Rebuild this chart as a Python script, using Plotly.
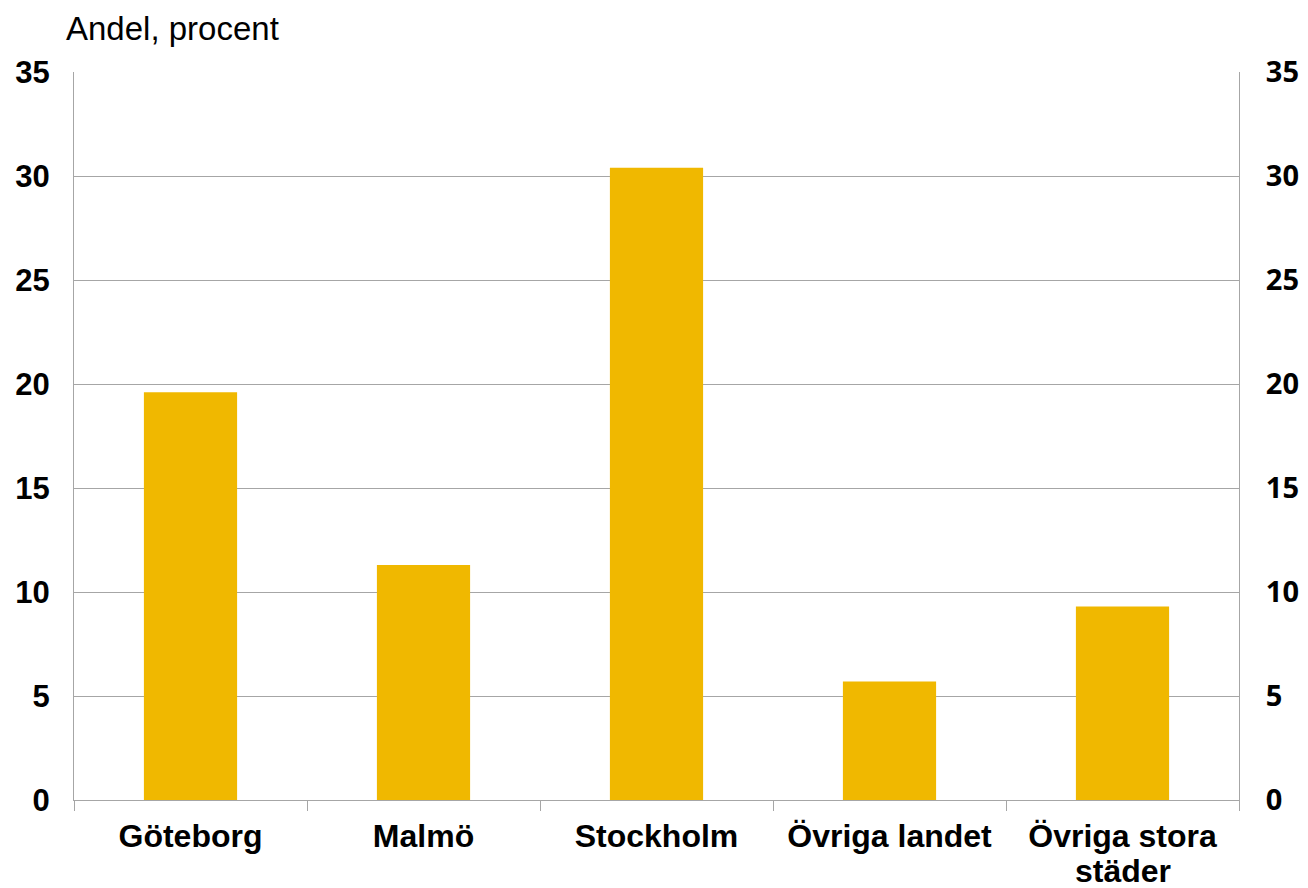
import plotly.graph_objects as go

categories = ["Göteborg", "Malmö", "Stockholm", "Övriga landet", "Övriga stora städer"]
tick_text = ["Göteborg", "Malmö", "Stockholm", "Övriga landet", "Övriga stora"]
second_line = ["", "", "", "", "städer"]
values = [19.6, 11.3, 30.4, 5.7, 9.3]
tick_vals = [0, 5, 10, 15, 20, 25, 30, 35]

BAR = "#F0B800"
GRID = "#A6A6A6"

fig = go.Figure()
fig.add_trace(go.Bar(x=categories, y=values, marker=dict(color=BAR, line=dict(width=0)),
                     width=0.4, showlegend=False, hoverinfo="skip"))
fig.add_trace(go.Scatter(x=categories, y=values, yaxis="y2", mode="markers",
                         marker=dict(opacity=0), showlegend=False, hoverinfo="skip"))

annotations = [dict(
    text="Andel, procent", xref="paper", yref="paper", x=-0.0086, y=1.060,
    xanchor="left", yanchor="middle", showarrow=False,
    font=dict(family="Liberation Sans, Arial", size=33, color="black"),
)]
for cat, extra in zip(categories, second_line):
    if extra:
        annotations.append(dict(
            text=extra, xref="x", yref="paper", x=cat, y=-0.0975,
            xanchor="center", yanchor="middle", showarrow=False,
            font=dict(family="Liberation Sans, Arial", size=32, color="black", weight="bold"),
        ))

fig.update_layout(
    width=1300, height=880,
    margin=dict(l=66, r=69, t=64, b=88),
    paper_bgcolor="white", plot_bgcolor="white",
    bargap=0.6,
    xaxis=dict(
        automargin=False,
        tickvals=categories, ticktext=tick_text,
        showline=True, linecolor=GRID, linewidth=1,
        ticks="outside", tickson="boundaries", ticklen=10, tickcolor=GRID,
        ticklabelstandoff=8,
        tickfont=dict(family="Liberation Sans, Arial", size=32, color="black", weight="bold"),
        showgrid=False,
    ),
    yaxis=dict(
        automargin=False,
        range=[0, 35], tickvals=tick_vals, showgrid=True, gridcolor=GRID, gridwidth=1,
        showline=True, linecolor=GRID, linewidth=1, zeroline=False,
        ticks="", ticklabelstandoff=17,
        tickfont=dict(family="Liberation Sans, Arial", size=31, color="black", weight="bold"),
    ),
    yaxis2=dict(
        automargin=False,
        range=[0, 35], tickvals=tick_vals, overlaying="y", side="right",
        showgrid=False, showline=True, linecolor=GRID, linewidth=1, zeroline=False,
        ticks="", ticklabelstandoff=20,
        tickfont=dict(family="Open Sans", size=29, color="black", weight="bold"),
    ),
    annotations=annotations,
)

fig.write_html("out.html")
